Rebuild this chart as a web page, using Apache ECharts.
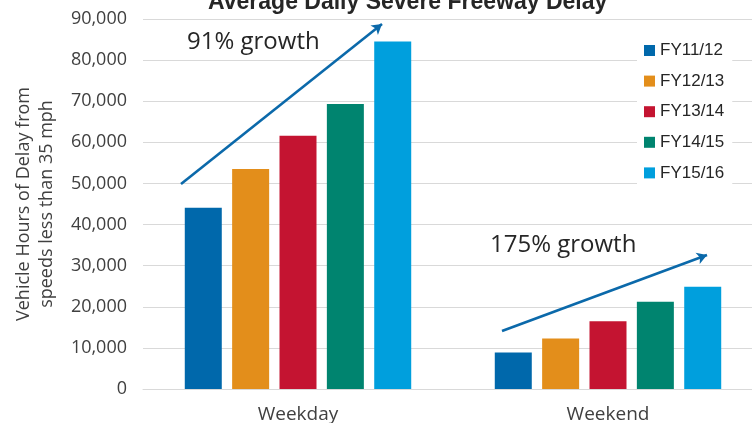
<!DOCTYPE html>
<html>
<head>
<meta charset="utf-8">
<script src="https://cdn.jsdelivr.net/npm/echarts@6/dist/echarts.min.js"></script>
<style>
  html, body { margin: 0; padding: 0; background: #fff; }
  #chart { width: 752px; height: 423px; }
</style>
</head>
<body>
<div id="chart"></div>
<script>
// Average daily severe freeway delay (vehicle hours), by fiscal year
const categories = ['Weekday', 'Weekend'];
const fiscalYears = ['FY11/12', 'FY12/13', 'FY13/14', 'FY14/15', 'FY15/16'];
const fy1112 = [44100, 8900];
const fy1213 = [53500, 12300];
const fy1314 = [61600, 16500];
const fy1415 = [69300, 21200];
const fy1516 = [84500, 24900];
const seriesValues = [fy1112, fy1213, fy1314, fy1415, fy1516];
const growthNotes = ['91% growth', '175% growth'];
const colors = ['#0068AB', '#E38E1B', '#C41431', '#00846F', '#009FDD'];

const chart = echarts.init(document.getElementById('chart'));
const sansFont = '"Open Sans", "Noto Sans", sans-serif';
const gray = '#404040';

const arrowLine = {
  silent: true,
  symbol: ['none', 'arrow'],
  symbolSize: [9, 10],
  label: { show: false },
  lineStyle: { color: '#0B69AA', width: 2.6, type: 'solid' },
  emphasis: { disabled: true },
  data: [
    [{ x: 181, y: 184 }, { x: 382, y: 24 }],
    [{ x: 502, y: 331 }, { x: 707, y: 255 }]
  ]
};

const series = fiscalYears.map((name, i) => ({
  name: name,
  type: 'bar',
  data: seriesValues[i],
  barWidth: 37,
  barGap: '28%',
  itemStyle: { color: colors[i] },
  markLine: i === 0 ? arrowLine : undefined
}));

chart.setOption({
  animation: false,
  title: {
    text: 'Average Daily Severe Freeway Delay',
    left: 203,
    top: -14,
    textStyle: { fontFamily: '"Liberation Sans", Arial, sans-serif', fontSize: 23, fontWeight: 'bold', color: '#262626' }
  },
  legend: {
    orient: 'vertical',
    left: 637,
    top: 37,
    padding: [5, 8, 5, 7],
    backgroundColor: '#ffffff',
    itemWidth: 11,
    itemHeight: 11,
    itemGap: 13.6,
    icon: 'rect',
    textStyle: { fontFamily: '"Liberation Sans", Arial, sans-serif', fontSize: 17, color: '#262626' },
    data: fiscalYears
  },
  grid: { left: 143, top: 19, bottom: 34, right: -11, containLabel: false, outerBoundsMode: 'none' },
  xAxis: {
    type: 'category',
    data: categories,
    axisLine: { lineStyle: { color: '#d9d9d9', width: 1 } },
    axisTick: { show: false },
    axisLabel: { fontFamily: sansFont, fontSize: 19, color: gray, margin: 16 }
  },
  yAxis: {
    type: 'value',
    min: 0,
    max: 90000,
    interval: 10000,
    name: 'Vehicle Hours of Delay from\nspeeds less than 35 mph',
    nameLocation: 'middle',
    nameGap: 85,
    nameTextStyle: { fontFamily: sansFont, fontSize: 18, color: gray, lineHeight: 23 },
    axisLine: { show: false },
    axisTick: { show: false },
    splitLine: { lineStyle: { color: '#d9d9d9', width: 1 } },
    axisLabel: {
      fontFamily: sansFont, fontSize: 18, color: gray, margin: 16,
      formatter: v => v.toLocaleString('en-US')
    }
  },
  graphic: [
    { type: 'text', left: 187, top: 30, style: { text: growthNotes[0], font: '24px ' + sansFont, fill: '#262626' } },
    { type: 'text', left: 490, top: 233, style: { text: growthNotes[1], font: '24px ' + sansFont, fill: '#262626' } }
  ],
  series: series
});
</script>
</body>
</html>
